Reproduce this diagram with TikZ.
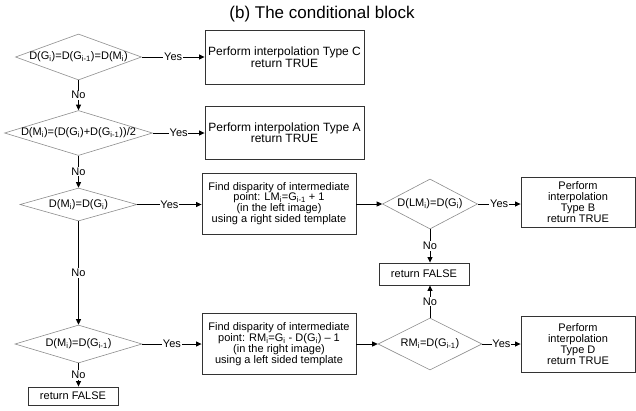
\documentclass[tikz,border=0pt]{standalone}
\usepackage{fontspec}
\setmainfont{Liberation Sans}
\usetikzlibrary{shapes.geometric,arrows.meta}
\newcommand{\sbs}[1]{\textsubscript{#1}}
\begin{document}
\begin{tikzpicture}[x=1pt,y=-1pt,
  dia/.style={diamond, draw=black!45, line width=0.6pt, inner sep=0pt, aspect=1,
    font=\fontsize{11}{12}\selectfont},
  box/.style={rectangle, draw=black!80, line width=0.9pt, inner sep=0pt, align=center,
    font=\fontsize{11}{10.8}\selectfont},
  bigbox/.style={box, font=\fontsize{12}{11.5}\selectfont},
  conn/.style={draw=black, line width=0.8pt, -{Triangle[length=5.5pt,width=5pt]}},
  lab/.style={fill=white, inner sep=0.8pt, font=\fontsize{11}{12}\selectfont}
]
\useasboundingbox (0,0) rectangle (636,410);

\node (title) at (322,14) {\fontsize{17}{20}\selectfont (b) The conditional block};

% decisions
\node[dia, minimum width=126pt, minimum height=46pt] (d1) at (78.5,57)
  {\makebox[0pt]{D(G\sbs{i})=D(G\sbs{i-1})=D(M\sbs{i})}};
\node[dia, minimum width=148pt, minimum height=45pt] (d2) at (78.5,133)
  {\makebox[0pt]{D(M\sbs{i})=(D(G\sbs{i})+D(G\sbs{i-1}))/2}};
\node[dia, minimum width=117pt, minimum height=33pt] (d3) at (78.5,204.5)
  {\makebox[0pt]{D(M\sbs{i})=D(G\sbs{i})}};
\node[dia, minimum width=127pt, minimum height=38pt] (d6) at (78.5,344)
  {\makebox[0pt]{D(M\sbs{i})=D(G\sbs{i-1})}};
\node[dia, minimum width=95pt, minimum height=50pt] (d4) at (430,204)
  {\makebox[0pt]{D(LM\sbs{i})=D(G\sbs{i})}};
\node[dia, minimum width=104pt, minimum height=52pt] (d5) at (430,344)
  {\makebox[0pt]{RM\sbs{i}=D(G\sbs{i-1})}};

% boxes
\node[bigbox, minimum width=159pt, minimum height=54pt] (bc) at (284.5,57)
  {Perform interpolation Type C\\return TRUE};
\node[bigbox, minimum width=159pt, minimum height=53pt] (ba) at (284.5,132.5)
  {Perform interpolation Type A\\return TRUE};
\node[box, minimum width=154pt, minimum height=61pt] (blm) at (279,203.5)
  {Find disparity of intermediate\\point: LM\sbs{i}=G\sbs{i-1} + 1\\(in the left image)\\using a right sided template};
\node[box, minimum width=154pt, minimum height=61pt] (brm) at (279,344)
  {Find disparity of intermediate\\point: RM\sbs{i}=G\sbs{i} - D(G\sbs{i}) -- 1\\(in the right image)\\using a left sided template};
\node[box, minimum width=114pt, minimum height=50pt] (bb) at (578,202)
  {Perform\\interpolation\\Type B\\return TRUE};
\node[box, minimum width=114pt, minimum height=56pt] (bd) at (578,344)
  {Perform\\interpolation\\Type D\\return TRUE};
\node[box, minimum width=90pt, minimum height=22pt] (f1) at (424,274) {return FALSE};
\node[box, minimum width=90pt, minimum height=18pt] (f2) at (73,396) {return FALSE};

% connectors
\draw[conn] (d1.east) -- node[lab]{Yes} (d1.east -| bc.west);
\draw[conn] (d1.south) -- node[lab]{No} (d2.north);
\draw[conn] (d2.east) -- node[lab]{Yes} (d2.east -| ba.west);
\draw[conn] (d2.south) -- node[lab]{No} (d3.north);
\draw[conn] (d3.east) -- node[lab]{Yes} (d3.east -| blm.west);
\draw[conn] (d3.south) -- node[lab]{No} (d6.north);
\draw[conn] (d6.east) -- node[lab]{Yes} (d6.east -| brm.west);
\draw[conn] (d6.south) -- node[lab]{No} (d6.south |- f2.north);
\draw[conn] (blm.east |- d4.west) -- (d4.west);
\draw[conn] (brm.east |- d5.west) -- (d5.west);
\draw[conn] (d4.east) -- node[lab]{Yes} (d4.east -| bb.west);
\draw[conn] (d4.south) -- node[lab]{No} (d4.south |- f1.north);
\draw[conn] (d5.north) -- node[lab]{No} (d5.north |- f1.south);
\draw[conn] (d5.east) -- node[lab]{Yes} (d5.east -| bd.west);
\end{tikzpicture}
\end{document}
